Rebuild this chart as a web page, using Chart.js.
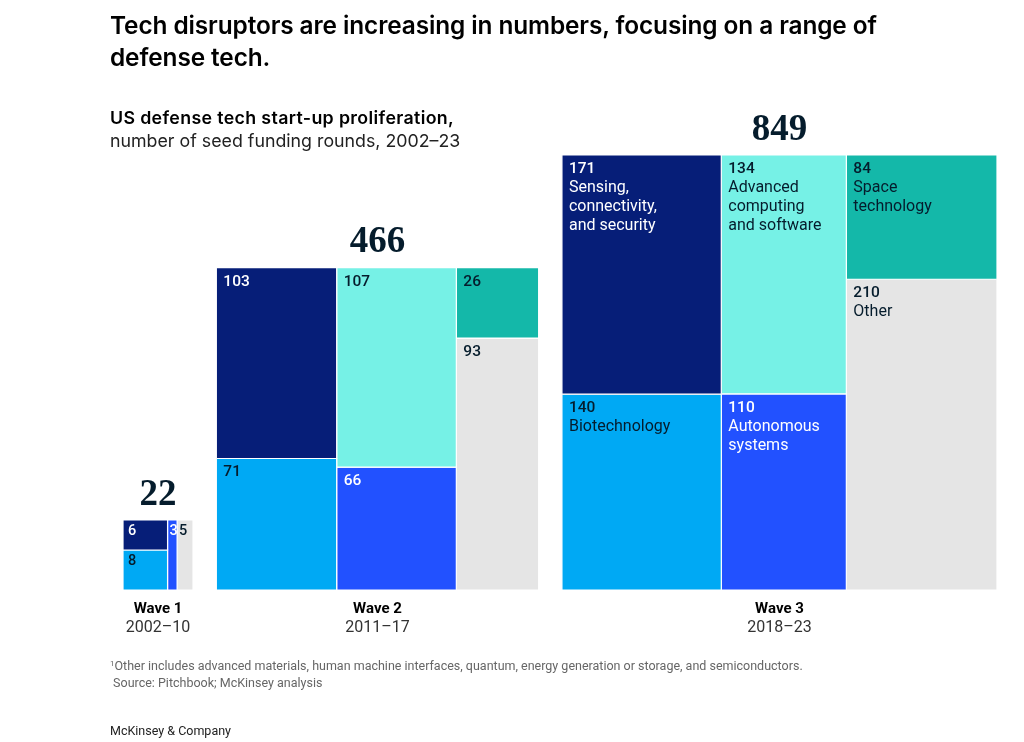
<!DOCTYPE html>
<html><head><meta charset="utf-8">
<script src="https://cdn.jsdelivr.net/npm/chart.js@4.4.0/dist/chart.umd.min.js"></script>
<style>
html,body{margin:0;padding:0;background:#fff;}
body{width:1024px;height:742px;position:relative;overflow:hidden;font-family:Roboto,'Liberation Sans',sans-serif;color:#000;}
#c{position:absolute;left:0;top:0;}
.t{position:absolute;left:110px;top:9px;font-family:Inter,Roboto,sans-serif;font-size:24.4px;font-weight:600;line-height:32px;white-space:nowrap;letter-spacing:-0.1px;}
.sub{position:absolute;left:110px;top:106px;font-family:Inter,Roboto,sans-serif;font-size:17.8px;line-height:23px;color:#222;white-space:nowrap;}
.sub b{font-weight:600;color:#000;letter-spacing:0.35px;}
.note{position:absolute;left:110px;top:657px;font-size:12.5px;line-height:17px;color:#666;white-space:nowrap;}
.note sup{font-size:8px;vertical-align:4px;line-height:0;}
.brand{position:absolute;left:110px;top:723px;font-size:12.5px;line-height:15px;color:#222;}
</style></head>
<body>
<canvas id="c" width="1024" height="742"></canvas>
<div class="t">Tech disruptors are increasing in numbers, focusing on a range of<br>defense tech.</div>
<div class="sub"><b>US defense tech start-up proliferation,</b><br>number of seed funding rounds, 2002–23</div>
<div class="note"><sup>1</sup>Other includes advanced materials, human machine interfaces, quantum, energy generation or storage, and semiconductors.<br>&nbsp;Source: Pitchbook; McKinsey analysis</div>
<div class="brand">McKinsey &amp; Company</div>
<script>
// ---- data ----
const waves = ['Wave 1', 'Wave 2', 'Wave 3'];
const periods = ['2002–10', '2011–17', '2018–23'];
const categories = ['Sensing, connectivity, and security', 'Biotechnology', 'Advanced computing and software', 'Autonomous systems', 'Space technology', 'Other'];
const categoryLines = [['Sensing,', 'connectivity,', 'and security'], ['Biotechnology'], ['Advanced', 'computing', 'and software'], ['Autonomous', 'systems'], ['Space', 'technology'], ['Other']];
const wave1 = [6, 8, 0, 3, 0, 5];
const wave2 = [103, 71, 107, 66, 26, 93];
const wave3 = [171, 140, 134, 110, 84, 210];
const columnGroups = [[0, 1], [2, 3], [4, 5]];

// ---- style ----
const colors = ['#061e78', '#00a9f4', '#76f1e6', '#2251ff', '#14b8a9', '#e5e5e5'];
const textColors = ['#ffffff', '#051c2c', '#051c2c', '#ffffff', '#051c2c', '#051c2c'];
const namedWave = 2;
const GAP = 1.56;

// ---- build marimekko cells (block area proportional to total) ----
const series = [wave1, wave2, wave3];
const cells = [], blocks = [];
let cursor = 0;
series.forEach((vals, w) => {
  const total = vals.reduce((a, b) => a + b, 0);
  const side = Math.sqrt(total);
  blocks.push({ x0: cursor, x1: cursor + side, top: side, total });
  let cx = cursor;
  columnGroups.forEach(group => {
    const colSum = group.reduce((a, i) => a + vals[i], 0);
    if (!colSum) return;
    const cw = colSum / total * side;
    let yTop = side;
    group.forEach(i => {
      const v = vals[i];
      if (!v) return;
      const h = v / colSum * side;
      cells.push({ w, i, v, x0: cx, x1: cx + cw, y0: yTop - h, y1: yTop });
      yTop -= h;
    });
    cx += cw;
  });
  cursor += side + GAP;
});
const xMax = cursor - GAP;
const plotLeft = 123, plotRight = 997, plotTop = 100, plotBottom = 590;
const P = (plotRight - plotLeft) / xMax;
const yMax = (plotBottom - plotTop) / P;

const datasets = cells.map(c => ({
  label: categories[c.i] + ' – ' + waves[c.w],
  data: [{ x: c.x0, y: c.y0 }, { x: c.x1, y: c.y0 }, { x: c.x1, y: c.y1 }, { x: c.x0, y: c.y1 }, { x: c.x0, y: c.y0 }],
  backgroundColor: colors[c.i],
  borderColor: '#ffffff',
  borderWidth: 1.2,
  fill: 'shape',
  pointRadius: 0,
  pointHoverRadius: 0,
  tension: 0
}));

const labelPlugin = {
  id: 'marimekkoLabels',
  afterDatasetsDraw(chart) {
    const { ctx, scales: { x, y } } = chart;
    ctx.save();
    cells.forEach(c => {
      const left = x.getPixelForValue(c.x0), right = x.getPixelForValue(c.x1);
      const top = y.getPixelForValue(c.y1);
      const wpx = right - left;
      const small = wpx < 60;
      const inset = wpx < 20 ? 2 : (small ? 5 : 7);
      ctx.fillStyle = textColors[c.i];
      ctx.textAlign = 'left';
      ctx.textBaseline = 'middle';
      ctx.font = '500 ' + (small ? 14.5 : 15.5) + 'px Roboto, "Liberation Sans", sans-serif';
      ctx.fillText(String(c.v), left + inset, top + (small ? 11 : 14));
      if (c.w === namedWave) {
        ctx.font = '400 16px Roboto, "Liberation Sans", sans-serif';
        categoryLines[c.i].forEach((ln, k) => ctx.fillText(ln, left + inset, top + 14 + 19 * (k + 1)));
      }
    });
    blocks.forEach((b, w) => {
      const cx = (x.getPixelForValue(b.x0) + x.getPixelForValue(b.x1)) / 2;
      const top = y.getPixelForValue(b.top);
      ctx.textAlign = 'center';
      ctx.textBaseline = 'middle';
      ctx.fillStyle = '#051c2c';
      ctx.font = 'bold 37px "Liberation Serif", "DejaVu Serif", serif';
      ctx.fillText(String(b.total), cx, top - 25);
      const base = y.getPixelForValue(0);
      ctx.fillStyle = '#000';
      ctx.font = 'bold 15px Roboto, "Liberation Sans", sans-serif';
      ctx.fillText(waves[w], cx, base + 19);
      ctx.fillStyle = '#333';
      ctx.font = '400 16px Roboto, "Liberation Sans", sans-serif';
      ctx.fillText(periods[w], cx, base + 38);
    });
    ctx.restore();
  }
};

new Chart(document.getElementById('c'), {
  type: 'line',
  data: { datasets },
  options: {
    responsive: false,
    animation: false,
    events: [],
    layout: { padding: { left: plotLeft, right: 1024 - plotRight, top: plotTop, bottom: 742 - plotBottom } },
    scales: {
      x: { type: 'linear', min: 0, max: xMax, display: false },
      y: { type: 'linear', min: 0, max: yMax, display: false }
    },
    plugins: { legend: { display: false }, tooltip: { enabled: false }, title: { display: false } }
  },
  plugins: [labelPlugin]
});
</script>
</body></html>
